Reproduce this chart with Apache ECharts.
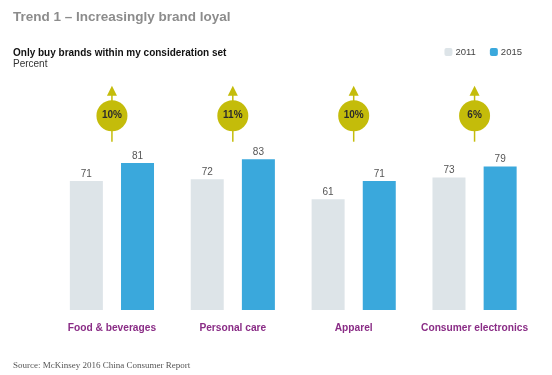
<!DOCTYPE html>
<html>
<head>
<meta charset="utf-8">
<script src="https://cdn.jsdelivr.net/npm/echarts@6/dist/echarts.min.js"></script>
<style>
  html, body { margin: 0; padding: 0; background: #fff; }
  #main { width: 552px; height: 375px; }
</style>
</head>
<body>
<div id="main"></div>
<script>
// data
var categories = ['Food & beverages', 'Personal care', 'Apparel', 'Consumer electronics'];
var values2011 = [71, 72, 61, 73];
var values2015 = [81, 83, 71, 79];
var growth = ['10%', '11%', '10%', '6%'];

var olive = '#c4bc0a';

function growthMark(params, api) {
  // circle with arrow, placed above the middle of each category
  var p = api.coord([api.value(0), 107]);
  var cx = p[0], cy = p[1];
  return {
    type: 'group',
    children: [
      { type: 'line', shape: { x1: cx, y1: cy + 26, x2: cx, y2: cy - 21 },
        style: { stroke: olive, lineWidth: 1.5 } },
      { type: 'polygon', shape: { points: [[cx, cy - 30], [cx - 5, cy - 20], [cx + 5, cy - 20]] },
        style: { fill: olive } },
      { type: 'circle', shape: { cx: cx, cy: cy, r: 15.5 },
        style: { fill: olive } },
      { type: 'text', x: cx, y: cy,
        style: { text: growth[params.dataIndex], fill: '#2b2b2b', font: 'bold 10px "Liberation Sans", Arial',
                 align: 'center', verticalAlign: 'middle' } }
    ]
  };
}

var chart = echarts.init(document.getElementById('main'));
var option = {
  animation: false,
  backgroundColor: '#fff',
  title: [
    { text: 'Trend 1 – Increasingly brand loyal', left: 8, top: 5,
      textStyle: { fontFamily: '"Liberation Sans", Arial', fontSize: 13.5, fontWeight: 'bold', color: '#8c8c8c' } },
    { text: 'Only buy brands within my consideration set', left: 8, top: 43,
      textStyle: { fontFamily: '"Liberation Sans", Arial', fontSize: 10, fontWeight: 'bold', color: '#111' },
      subtext: 'Percent', itemGap: 1,
      subtextStyle: { fontFamily: '"Liberation Sans", Arial', fontSize: 10, color: '#333' } },
    { text: 'Source: McKinsey 2016 China Consumer Report', left: 8, top: 356,
      textStyle: { fontFamily: '"Liberation Serif", "DejaVu Serif", serif', fontSize: 9, fontWeight: 'normal', color: '#555' } }
  ],
  legend: {
    right: 25, top: 42, itemWidth: 8, itemHeight: 8, itemGap: 14,
    textStyle: { fontFamily: '"Liberation Sans", Arial', fontSize: 9.5, color: '#444', padding: [0, 0, 0, -2] },
    data: ['2011', '2015']
  },
  grid: { left: 51.5, right: 17, top: 83, bottom: 65 },
  xAxis: {
    type: 'category', data: categories,
    axisLine: { show: false }, axisTick: { show: false },
    axisLabel: { interval: 0, margin: 13, fontFamily: '"Liberation Sans", Arial', fontSize: 10.2, fontWeight: 'bold', color: '#8a2d86' }
  },
  yAxis: { type: 'value', min: 0, max: 125, show: false, splitLine: { show: false } },
  series: [
    { name: '2011', type: 'bar', data: values2011, barWidth: 33, barGap: '55%',
      itemStyle: { color: '#dde4e8' },
      label: { show: true, position: 'top', distance: 2, fontFamily: '"Liberation Sans", Arial', fontSize: 10, color: '#555' } },
    { name: '2015', type: 'bar', data: values2015, barWidth: 33,
      itemStyle: { color: '#3aa8dc' },
      label: { show: true, position: 'top', distance: 2, fontFamily: '"Liberation Sans", Arial', fontSize: 10, color: '#555' } },
    { name: 'growth', type: 'custom', renderItem: growthMark,
      data: growth.map(function (g, i) { return [i, 0]; }), z: 5, silent: true }
  ]
};
chart.setOption(option);
</script>
</body>
</html>
